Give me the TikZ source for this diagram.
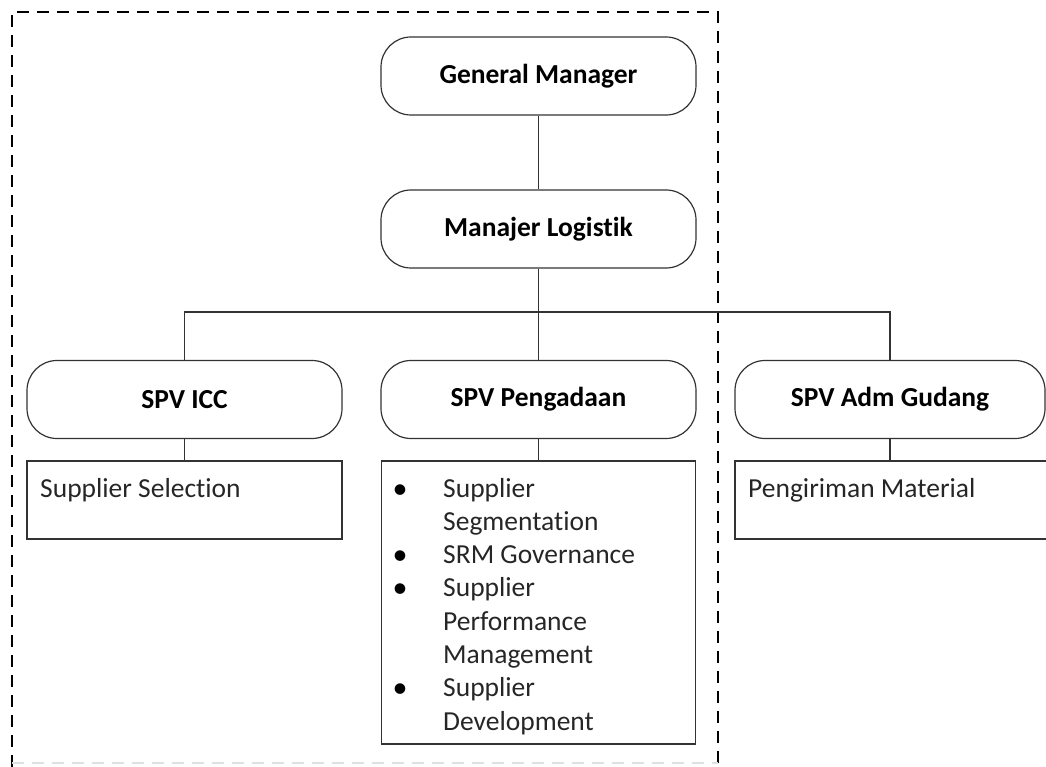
\documentclass[tikz,border=0pt]{standalone}
\usepackage{fontspec}
\setmainfont[Ligatures=CommonOff]{Carlito}
\begin{document}
\begin{tikzpicture}[x=1pt,y=-1pt,
  role/.style={draw=black!80, line width=1.2pt, rounded corners=30pt,
    minimum width=315pt, minimum height=78pt, inner sep=0pt,
    font=\fontsize{27.5}{31}\selectfont\bfseries, text=black},
  taskbox/.style={draw=black!80, line width=1.2pt, inner sep=0pt},
  tasktext/.style={anchor=base west, inner sep=0pt,
    font=\fontsize{27.5}{31}\selectfont, text=black!85},
  dot/.style={anchor=base, inner sep=0pt,
    font=\fontsize{30}{31}\selectfont, text=black},
  link/.style={draw=black!80, line width=1.1pt},
  frame/.style={line width=1.4pt, dash pattern=on 12pt off 8pt}]
\useasboundingbox (0,0) rectangle (1046,767);

% dashed frame
\draw[frame] (12,767) -- (12,12) -- (718,12) -- (718,767);
\draw[frame, black!12] (12,763) -- (718,763);

% management
\node[role] (gm) at (538.5,76) {General Manager};
\node[role] (ml) at (538.5,229) {Manajer Logistik};

% supervisors
\node[role] (icc) at (184.5,399.5) {SPV ICC};
\node[role] (peng) at (538.5,399.5) {SPV Pengadaan};
\node[role, minimum width=310pt] (adm) at (890,399.5) {SPV Adm Gudang};

% task boxes
\node[taskbox, minimum width=315pt, minimum height=78pt] (sel) at (184.5,500) {};
\node[taskbox, minimum width=314pt, minimum height=283pt] (pbox) at (538.5,602.5) {};
\node[taskbox, minimum width=315pt, minimum height=78pt] (pen) at (892.5,500) {};

\node[tasktext] (selt) at (40,497) {Supplier Selection};
\node[tasktext] (pent) at (748,497) {Pengiriman Material};

% bulleted list
\node[dot] (b1) at (400,498) {•};
\node[dot] (b2) at (400,564.6) {•};
\node[dot] (b3) at (400,597.9) {•};
\node[dot] (b4) at (400,697.8) {•};
\node[tasktext] (l1) at (443,497) {Supplier};
\node[tasktext] (l2) at (443,530.3) {Segmentation};
\node[tasktext] (l3) at (443,563.6) {SRM Governance};
\node[tasktext] (l4) at (443,596.9) {Supplier};
\node[tasktext] (l5) at (443,630.2) {Performance};
\node[tasktext] (l6) at (443,663.5) {Management};
\node[tasktext] (l7) at (443,696.8) {Supplier};
\node[tasktext] (l8) at (443,730.1) {Development};

% connectors
\coordinate (bus) at (538.5,312);
\draw[link] (gm) -- (ml);
\draw[link] (ml.south) -- (bus);
\draw[link] (icc.north) |- (bus) -| (adm.north);
\draw[link] (bus) -- (peng.north);
\draw[link] (icc) -- (sel);
\draw[link] (peng) -- (pbox);
\draw[link] (adm) -- (adm.south |- pen.north);
\end{tikzpicture}
\end{document}
